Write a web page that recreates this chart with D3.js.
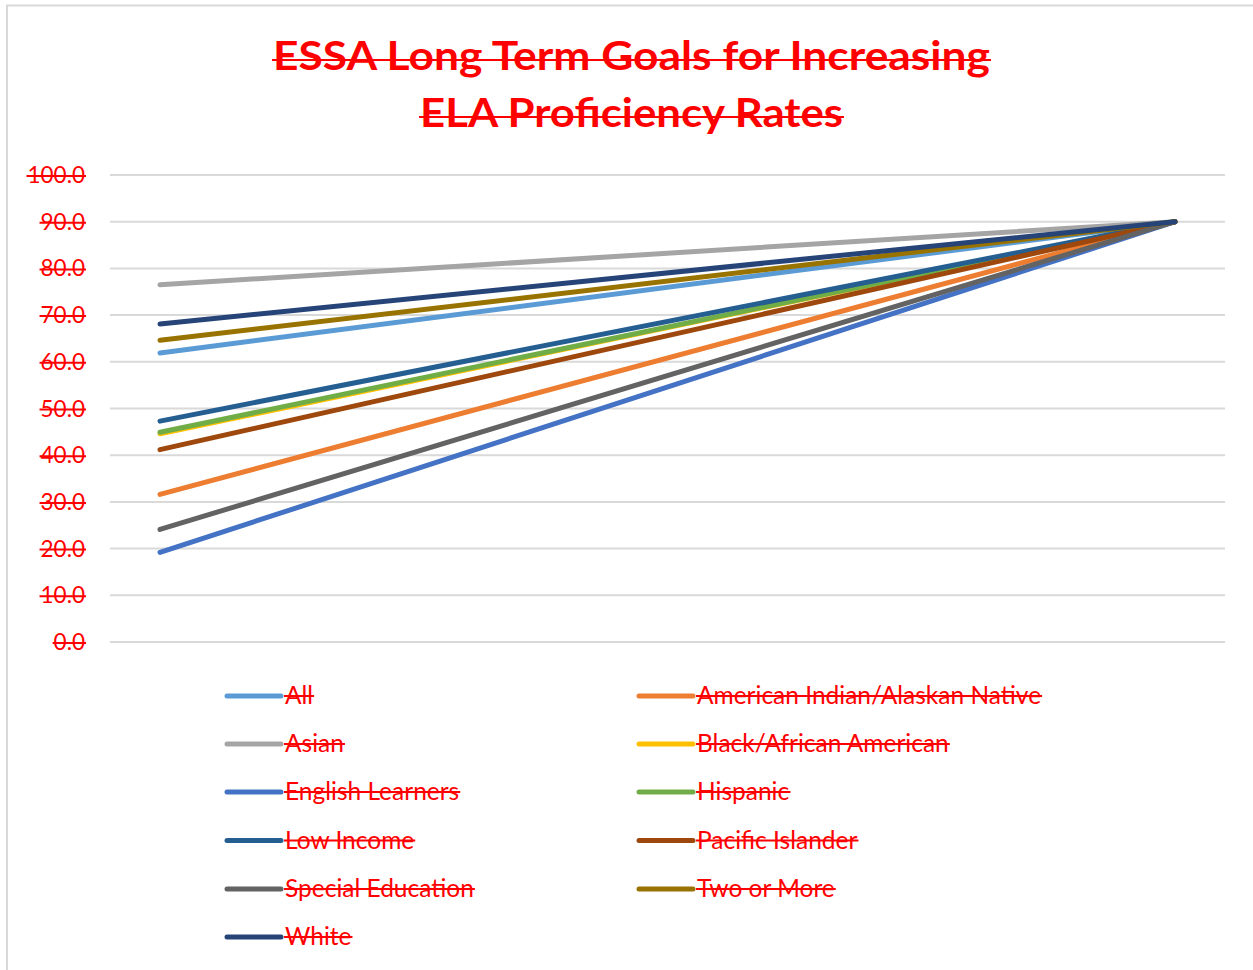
<!DOCTYPE html>
<html><head><meta charset="utf-8">
<script src="https://cdn.jsdelivr.net/npm/d3@7"></script>
<style>
html,body{margin:0;padding:0;background:#fff;}
svg{display:block;}
text{font-family:Lato,"Open Sans",sans-serif;fill:#ff0000;}
</style></head>
<body>
<svg id="chart" width="1253" height="970"></svg>
<script>
const titleLines = ["ESSA Long Term Goals for Increasing", "ELA Proficiency Rates"];
const categories = ["Baseline", "Goal"];
const seriesNames = ["All", "American Indian/Alaskan Native", "Asian", "Black/African American",
  "English Learners", "Hispanic", "Low Income", "Pacific Islander", "Special Education", "Two or More", "White"];
const seriesColors = ["#5B9BD5", "#ED7D31", "#A5A5A5", "#FFC000", "#4472C4", "#70AD47",
  "#255E91", "#9E480E", "#636363", "#997300", "#264478"];
const startValues = [61.9, 31.6, 76.5, 44.6, 19.2, 44.9, 47.3, 41.2, 24.1, 64.6, 68.1];
const goalValues  = [90.0, 90.0, 90.0, 90.0, 90.0, 90.0, 90.0, 90.0, 90.0, 90.0, 90.0];
const yTicks = [0, 10, 20, 30, 40, 50, 60, 70, 80, 90, 100];

const svg = d3.select("#chart");
// outer border (left & top visible)
svg.append("line").attr("x1",7).attr("x2",7).attr("y1",5).attr("y2",970).attr("stroke","#d9d9d9").attr("stroke-width",2);
svg.append("line").attr("x1",6).attr("x2",1253).attr("y1",5.5).attr("y2",5.5).attr("stroke","#d9d9d9").attr("stroke-width",2);

function strike(sel, dy){
  sel.each(function(){
    const t = d3.select(this);
    const b = this.getBBox();
    const y = +t.attr("y") + dy;
    d3.select(this.parentNode).append("line")
      .attr("x1", b.x - 1).attr("x2", b.x + b.width + 1)
      .attr("y1", y).attr("y2", y)
      .attr("stroke", "#ff0000").attr("stroke-width", 2);
  });
}

// Title
const tg = svg.append("g");
const tWidths = [717, 423];
const tY = [70, 127];
titleLines.forEach((s,i)=>{
  const t = tg.append("text").attr("x",631.5).attr("y",tY[i]).attr("text-anchor","middle")
    .attr("font-size",40).attr("font-weight",700)
    .attr("textLength",tWidths[i]).attr("lengthAdjust","spacingAndGlyphs").text(s);
  strike(t, -10);
});

const plotLeft = 110, plotRight = 1225;
const y = d3.scaleLinear().domain([0,100]).range([642,175]);
const x = d3.scalePoint().domain(categories).range([160,1175]);

// gridlines
svg.append("g").selectAll("line").data(yTicks).join("line")
  .attr("x1",plotLeft).attr("x2",plotRight)
  .attr("y1",d=>y(d)).attr("y2",d=>y(d))
  .attr("stroke","#d9d9d9").attr("stroke-width",2);

// y axis labels
const ag = svg.append("g");
ag.selectAll("text").data(yTicks).join("text")
  .attr("x",85).attr("y",d=>y(d)+8).attr("text-anchor","end")
  .attr("font-size",22.5).text(d=>d3.format(".1f")(d))
  .call(s=>strike(s,-7));

// lines
const lineGen = d3.line().x(d=>x(d.c)).y(d=>y(d.v));
const data = seriesNames.map((n,i)=>({name:n,color:seriesColors[i],
  pts:[{c:categories[0],v:startValues[i]},{c:categories[1],v:goalValues[i]}]}));
svg.append("g").selectAll("path").data(data).join("path")
  .attr("d",d=>lineGen(d.pts)).attr("fill","none")
  .attr("stroke",d=>d.color).attr("stroke-width",5).attr("stroke-linecap","round");

// legend
const lg = svg.append("g");
const rowY = [696, 744, 792, 840.5, 889, 937];
data.forEach((d,i)=>{
  const col = i % 2, row = Math.floor(i/2);
  const lx = col === 0 ? 227 : 639;
  const ly = rowY[row];
  lg.append("line").attr("x1",lx).attr("x2",lx+54).attr("y1",ly).attr("y2",ly)
    .attr("stroke",d.color).attr("stroke-width",5).attr("stroke-linecap","round");
  const t = lg.append("text").attr("x",lx+58).attr("y",ly+8).attr("font-size",24.5).text(d.name);
  strike(t,-8);
});
</script>
</body></html>
